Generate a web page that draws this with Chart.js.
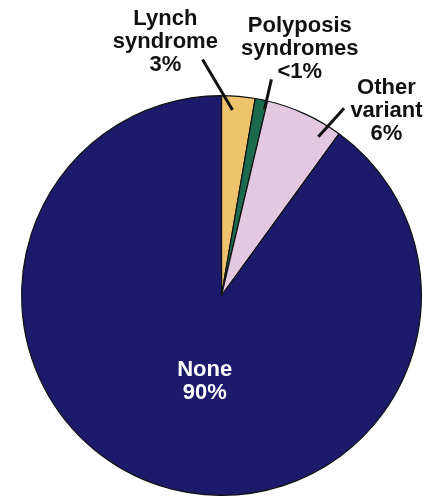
<!DOCTYPE html>
<html>
<head>
<meta charset="utf-8">
<script src="https://cdn.jsdelivr.net/npm/chart.js@4.4.0/dist/chart.umd.min.js"></script>
<style>
  html, body { margin: 0; padding: 0; background: #fff; }
  #wrap { width: 429px; height: 504px; }
</style>
</head>
<body>
<div id="wrap"><canvas id="pie" width="429" height="504"></canvas></div>
<script>
// ─── data ───────────────────────────────────────────────────────────────────
const categories  = ['Lynch\nsyndrome', 'Polyposis\nsyndromes', 'Other\nvariant', 'None'];
const shares      = [2.7, 1.0, 6.3, 90.0];          // slice sizes, %
const shareLabels = ['3%', '<1%', '6%', '90%'];     // printed text
const sliceColors = ['#edc46b', '#1b6a4e', '#e2c8e1', '#1c1b6b'];

// label layout in polar terms: angle (deg, clockwise from top), radius as fraction of R
const labelSpots = [
    { a: -12.5, r: 1.298, color: '#111', line: [{ a: 3.4, r: 0.93 }, { a: -4.6, r: 1.184 }] },
    { a: 17.6,  r: 1.295, color: '#111', line: [{ a: 13.0, r: 0.955 }, { a: 13.0, r: 1.11 }] },
    { a: 41.8,  r: 1.238, color: '#111', line: [{ a: 31.4, r: 0.93 }, { a: 33.2, r: 1.12 }] },
    { a: 191.0, r: 0.44,  color: '#fff', line: null }
];

const FONT = 'bold 22px "Liberation Sans", Arial, sans-serif';
const LINE_H = 23;

// ─── plugin: leader lines + labels ──────────────────────────────────────────
const sliceLabels = {
    id: 'sliceLabels',
    afterDatasetsDraw(chart) {
        const ctx = chart.ctx;
        const arcs = chart.getDatasetMeta(0).data;
        arcs.forEach((arc, i) => {
            const { x, y, outerRadius: R } = arc.getProps(['x', 'y', 'outerRadius'], true);
            const pt = (p) => {
                const rad = p.a * Math.PI / 180;
                return [x + Math.sin(rad) * p.r * R, y - Math.cos(rad) * p.r * R];
            };
            const spot = labelSpots[i];

            if (spot.line) {
                const [x1, y1] = pt(spot.line[0]);
                const [x2, y2] = pt(spot.line[1]);
                ctx.save();
                ctx.strokeStyle = '#111';
                ctx.lineWidth = 3;
                ctx.beginPath();
                ctx.moveTo(x1, y1);
                ctx.lineTo(x2, y2);
                ctx.stroke();
                ctx.restore();
            }

            const lines = categories[i].split('\n').concat(shareLabels[i]);
            const [cx, cy] = pt(spot);
            ctx.save();
            ctx.font = FONT;
            ctx.fillStyle = spot.color;
            ctx.textAlign = 'center';
            ctx.textBaseline = 'middle';
            const top = cy - (lines.length - 1) * LINE_H / 2;
            lines.forEach((t, k) => ctx.fillText(t, cx, top + k * LINE_H));
            ctx.restore();
        });
    }
};

// ─── chart ──────────────────────────────────────────────────────────────────
new Chart(document.getElementById('pie'), {
    type: 'pie',
    data: {
        labels: categories,
        datasets: [{
            data: shares,
            backgroundColor: sliceColors,
            borderColor: '#111',
            borderWidth: 1.2
        }]
    },
    options: {
        responsive: false,
        devicePixelRatio: 1,
        animation: false,
        layout: { padding: { left: 21, right: 7, top: 95, bottom: 8 } },
        plugins: {
            legend: { display: false },
            tooltip: { enabled: false }
        }
    },
    plugins: [sliceLabels]
});
</script>
</body>
</html>
